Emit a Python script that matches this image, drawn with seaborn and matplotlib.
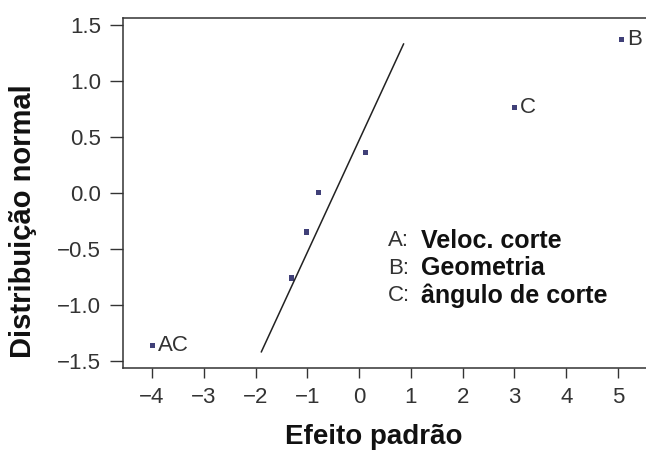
import matplotlib
matplotlib.use("Agg")
import matplotlib.pyplot as plt
import seaborn as sns
import pandas as pd

# Data
effect = [-3.99, -1.30, -1.01, -0.78, 0.12, 3.00, 5.06]
normal = [-1.36, -0.76, -0.35, 0.00, 0.36, 0.76, 1.37]
point_labels = ["AC", "", "", "", "", "C", "B"]

line_x = [-1.89, 0.86]
line_y = [-1.42, 1.33]

x_ticks = [-4, -3, -2, -1, 0, 1, 2, 3, 4, 5]
y_ticks = [-1.5, -1.0, -0.5, 0.0, 0.5, 1.0, 1.5]

legend_keys = ["A:", "B:", "C:"]
legend_names = ["Veloc. corte", "Geometria", "ângulo de corte"]

sns.set_theme(style="white")
plt.rcParams["font.family"] = ["Liberation Sans", "DejaVu Sans"]
plt.rcParams["axes.unicode_minus"] = True

df = pd.DataFrame({"effect": effect, "normal": normal, "label": point_labels})
df_line = pd.DataFrame({"x": line_x, "y": line_y})

fig = plt.figure(figsize=(6.46, 4.5), dpi=100)
ax = fig.add_axes([0.1904, 0.1822, 0.8096, 0.7778])

sns.lineplot(data=df_line, x="x", y="y", ax=ax, color="#222222", linewidth=1.1)
sns.scatterplot(data=df, x="effect", y="normal", ax=ax, marker="s", s=14,
                color="#404078", edgecolor="none", linewidth=0)

for xv, yv, lab in zip(effect, normal, point_labels):
    if lab:
        ax.annotate(lab, (xv, yv), xytext=(4, 0), textcoords="offset points",
                    ha="left", va="center", fontsize=16, color="#333333",
                    annotation_clip=False)

ax.set_xlim(-4.56, 5.54)
ax.set_ylim(-1.5625, 1.56)
ax.set_xticks(x_ticks)
ax.set_yticks(y_ticks)
ax.set_xticklabels([f"{v}".replace("-", "\u2212") for v in x_ticks])
ax.set_yticklabels([f"{v:.1f}".replace("-", "\u2212") for v in y_ticks])

ax.tick_params(axis="both", which="both", direction="out", colors="#333333",
               labelsize=16, labelcolor="#333333")
ax.tick_params(axis="y", length=9.5, width=1, pad=6.5)
ax.tick_params(axis="x", length=7.5, width=1, pad=6.5)
ax.xaxis.set_ticks_position("bottom")
ax.yaxis.set_ticks_position("left")

for side in ["left", "top", "bottom"]:
    ax.spines[side].set_visible(True)
    ax.spines[side].set_color("#333333")
    ax.spines[side].set_linewidth(1.1)
ax.spines["right"].set_visible(False)
ax.grid(False)

ax.set_xlabel("Efeito padrão", fontsize=20, fontweight="bold", color="#111111")
ax.set_ylabel("Distribuição normal", fontsize=21, fontweight="bold", color="#111111")
ax.xaxis.label.set_va("center")
ax.xaxis.set_label_coords(0.48, -0.197)
ax.yaxis.label.set_va("center")
ax.yaxis.set_label_coords(-0.191, 0.42)

for i, (k, n) in enumerate(zip(legend_keys, legend_names)):
    yfrac = 0.363 - i * 0.0785
    ax.text(0.507, yfrac, k, transform=ax.transAxes, fontsize=16,
            color="#333333", ha="left", va="center")
    ax.text(0.570, yfrac, n, transform=ax.transAxes, fontsize=18,
            fontweight="bold", color="#111111", ha="left", va="center")

fig.savefig("out.png", dpi=100)
